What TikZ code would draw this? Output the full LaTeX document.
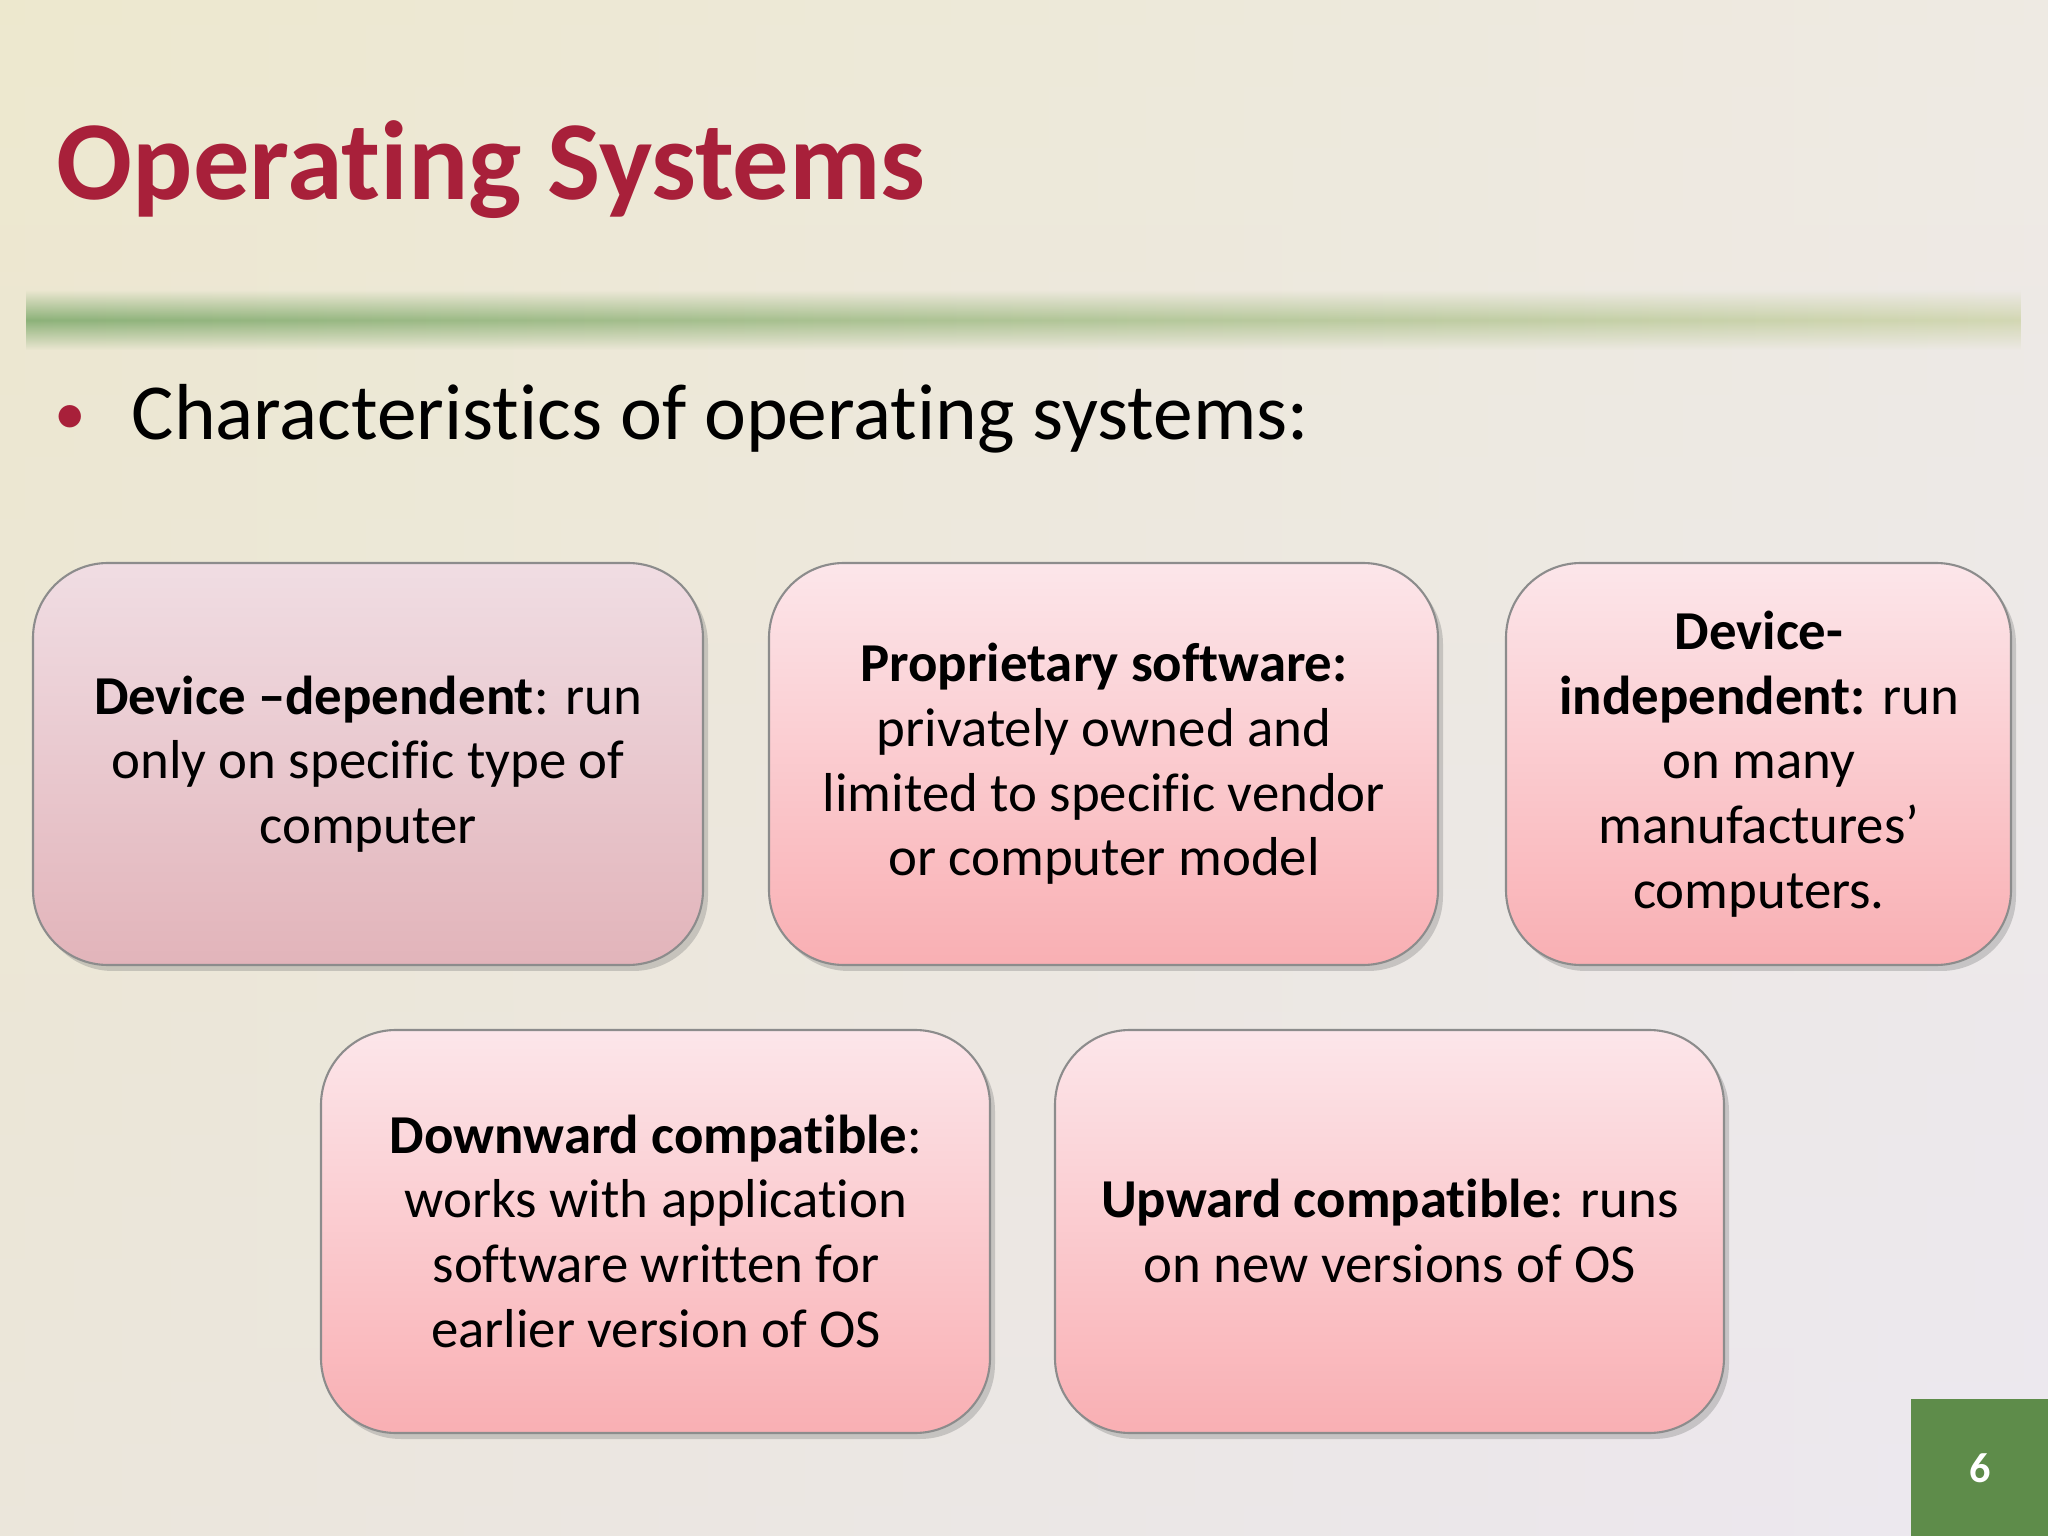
\documentclass[tikz,border=0pt]{standalone}
\usepackage{fontspec}
\setmainfont[Ligatures=NoCommon]{Carlito}
\usetikzlibrary{shadows,fadings}
\definecolor{titlered}{HTML}{A8203A}
\definecolor{bgA}{HTML}{EAE4C6}
\definecolor{bgB}{HTML}{ECE8F0}
\definecolor{pinkTop}{HTML}{FCE6EA}
\definecolor{pinkBot}{HTML}{F9AFB3}
\definecolor{pinkBotA}{HTML}{E2B4BA}
\definecolor{pinkTopA}{HTML}{F0DDE3}
\definecolor{barGreen}{HTML}{8DB27A}
\definecolor{pageGreen}{HTML}{5E8C4A}
\tikzfading[name=barfade, top color=transparent!100, bottom color=transparent!100, middle color=transparent!0]
\tikzset{
  card/.style={draw=black!45, line width=0.6pt, rounded corners=0.75cm, top color=pinkTop, bottom color=pinkBot, drop shadow={shadow xshift=0.05cm, shadow yshift=-0.06cm, opacity=0.35}},
  cardtext/.style={align=center, font=\fontsize{15.6}{18.4}\selectfont},
}
\begin{document}
\begin{tikzpicture}[x=1cm,y=-1cm]
\useasboundingbox (0,0) rectangle (20.48,15.36);
\shade[left color=bgA, right color=bgB] (0,0) rectangle (20.48,15.36);
\shade[top color=bgA!70!white, bottom color=bgB, opacity=0.5] (0,0) rectangle (20.48,15.36);
% green bar
\shade[left color=barGreen, right color=barGreen!25!bgA, path fading=barfade] (0.26,2.9) rectangle (20.2,3.5);
\node[anchor=base west, text=titlered, font=\fontsize{32}{38}\selectfont\bfseries, inner sep=0] (title) at (0.56,2.0) {Operating Systems};
\node[anchor=base west, font=\fontsize{22.6}{28}\selectfont, inner sep=0] (bul) at (1.31,4.4) {Characteristics of operating systems:};
\node[text=titlered, font=\fontsize{18}{20}\selectfont, inner sep=0, anchor=base] (dot) at (0.70,4.35) {•};
% cards
\path[card, top color=pinkTopA, bottom color=pinkBotA] (0.33,5.63) rectangle (7.03,9.65);
\node[cardtext] (c1) at (3.68,7.64) {\textbf{Device –dependent}: run\\only on specific type of\\computer};
\path[card] (7.69,5.63) rectangle (14.38,9.65);
\node[cardtext] (c2) at (11.04,7.64) {\textbf{Proprietary software:}\\privately owned and\\limited to specific vendor\\or computer model};
\path[card] (15.06,5.63) rectangle (20.11,9.65);
\node[cardtext] (c3) at (17.59,7.64) {\textbf{Device-}\\\textbf{independent:} run\\on many\\manufactures’\\computers.};
\path[card] (3.21,10.30) rectangle (9.90,14.33);
\node[cardtext] (c4) at (6.56,12.31) {\textbf{Downward compatible}:\\works with application\\software written for\\earlier version of OS};
\path[card] (10.55,10.30) rectangle (17.24,14.33);
\node[cardtext] (c5) at (13.90,12.31) {\textbf{Upward compatible}: runs\\on new versions of OS};
% page number
\fill[pageGreen] (19.11,13.99) rectangle (20.48,15.36);
\node[text=white, font=\fontsize{12}{14}\selectfont\bfseries] (pg) at (19.80,14.68) {6};
\end{tikzpicture}
\end{document}
